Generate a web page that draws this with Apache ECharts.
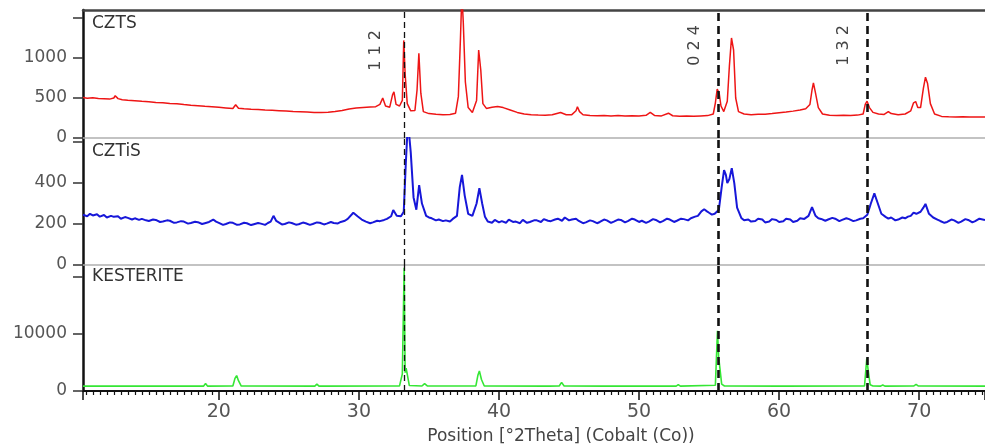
<!DOCTYPE html>
<html>
<head>
<meta charset="utf-8">
<script src="https://cdn.jsdelivr.net/npm/echarts@6/dist/echarts.min.js"></script>
<style>
  html, body { margin: 0; padding: 0; background: #fff; }
  #xrd { width: 985px; height: 446px; }
</style>
</head>
<body>
<div id="xrd"></div>
<script>
// [2theta, counts]
var cztsData = [
  [10.3,505],[10.6,498],[11.0,502],[11.4,494],[11.8,490],[12.2,486],[12.5,500],[12.6,528],[12.8,492],[13.1,478],
  [13.5,472],[14.0,466],[14.5,458],[15.0,452],[15.5,445],[16.0,440],[16.5,432],[17.0,428],[17.5,418],[18.0,410],
  [18.5,404],[19.0,396],[19.5,392],[20.0,384],[20.5,376],[21.0,368],[21.2,415],[21.4,372],[21.8,366],[22.3,360],
  [22.8,356],[23.3,350],[23.8,346],[24.3,342],[24.8,338],[25.3,332],[25.8,328],[26.3,324],[26.8,320],[27.3,318],
  [27.8,322],[28.3,330],[28.8,345],[29.3,362],[29.8,375],[30.3,382],[30.8,388],[31.2,392],[31.5,420],[31.7,500],
  [31.9,400],[32.2,385],[32.4,540],[32.5,578],[32.65,420],[32.9,400],[33.1,470],[33.2,1220],[33.3,800],[33.45,430],
  [33.7,340],[34.0,345],[34.15,600],[34.28,1060],[34.42,560],[34.6,330],[35.0,305],[35.5,296],[36.0,290],[36.5,295],
  [36.9,310],[37.1,520],[37.25,1250],[37.35,1800],[37.45,1450],[37.6,700],[37.8,380],[38.1,320],[38.4,470],[38.55,1100],
  [38.7,850],[38.85,430],[39.1,370],[39.5,385],[39.9,395],[40.3,380],[40.8,350],[41.3,320],[41.8,300],[42.3,292],
  [42.8,288],[43.3,285],[43.8,290],[44.4,318],[44.8,290],[45.2,292],[45.5,340],[45.6,390],[45.75,330],[46.0,290],
  [46.5,282],[47.0,278],[47.5,282],[48.0,276],[48.5,280],[49.0,274],[49.5,278],[50.0,275],[50.5,284],[50.8,320],
  [51.1,282],[51.6,276],[52.1,310],[52.4,278],[52.9,272],[53.4,276],[53.9,272],[54.4,276],[54.9,280],[55.3,300],
  [55.45,440],[55.58,610],[55.72,560],[55.85,400],[56.05,330],[56.3,460],[56.45,900],[56.6,1250],[56.75,1100],[56.9,500],
  [57.1,330],[57.5,300],[58.0,292],[58.5,296],[59.0,298],[59.5,305],[60.0,315],[60.5,325],[61.0,336],[61.5,350],
  [61.9,365],[62.2,420],[62.35,600],[62.45,690],[62.6,560],[62.8,380],[63.1,300],[63.6,285],[64.1,280],[64.6,284],
  [65.1,280],[65.6,286],[66.0,300],[66.15,420],[66.28,460],[66.45,380],[66.7,320],[67.1,300],[67.5,295],[67.8,330],
  [68.0,305],[68.5,290],[69.0,300],[69.4,340],[69.6,440],[69.75,455],[69.9,380],[70.1,380],[70.3,620],[70.45,760],
  [70.6,680],[70.8,430],[71.1,300],[71.6,270],[72.1,266],[72.6,264],[73.1,266],[73.6,262],[74.1,264],[74.7,262]
];

var cztisData = [
  [10.3,245],[10.6,238],[10.8,250],[11.0,242],[11.3,248],[11.5,236],[11.8,244],[12.0,232],[12.3,240],[12.5,235],
  [12.8,238],[13.0,226],[13.3,234],[13.5,230],[13.8,222],[14.0,228],[14.3,220],[14.5,225],[14.8,218],[15.0,215],
  [15.3,222],[15.5,220],[15.8,210],[16.0,212],[16.3,218],[16.5,216],[16.8,206],[17.0,208],[17.3,214],[17.5,212],
  [17.8,202],[18.0,205],[18.3,211],[18.5,209],[18.8,200],[19.0,204],[19.3,210],[19.6,222],[19.8,212],[20.0,206],
  [20.3,196],[20.5,200],[20.8,208],[21.0,206],[21.3,196],[21.5,198],[21.8,206],[22.0,204],[22.3,195],[22.5,199],
  [22.8,205],[23.0,202],[23.3,196],[23.5,205],[23.7,212],[23.9,240],[24.1,215],[24.2,206],[24.5,198],[24.7,200],
  [25.0,208],[25.2,205],[25.5,197],[25.7,199],[26.0,207],[26.2,204],[26.5,196],[26.7,200],[27.0,208],[27.2,206],
  [27.5,198],[27.7,202],[28.0,210],[28.2,205],[28.5,203],[28.7,210],[29.0,216],[29.2,225],[29.6,255],[29.9,238],
  [30.2,222],[30.5,212],[30.8,204],[31.0,208],[31.3,216],[31.5,214],[31.8,220],[32.0,225],[32.3,238],[32.45,268],
  [32.7,240],[33.0,238],[33.2,260],[33.35,500],[33.5,700],[33.7,550],[33.9,330],[34.1,270],[34.3,390],[34.5,300],
  [34.8,240],[35.0,232],[35.2,228],[35.5,218],[35.7,222],[36.0,214],[36.2,218],[36.5,212],[36.7,225],[37.0,240],
  [37.2,380],[37.36,440],[37.55,340],[37.8,250],[38.1,240],[38.4,300],[38.6,375],[38.8,300],[39.0,235],[39.2,212],
  [39.5,206],[39.7,220],[40.0,208],[40.2,214],[40.5,206],[40.7,222],[41.0,210],[41.2,212],[41.5,204],[41.7,220],
  [42.0,206],[42.2,210],[42.5,218],[42.7,218],[43.0,210],[43.2,224],[43.5,216],[43.7,214],[44.0,222],[44.2,226],
  [44.5,216],[44.7,232],[45.0,218],[45.2,222],[45.5,226],[45.7,215],[46.0,204],[46.2,208],[46.5,218],[46.7,214],
  [47.0,204],[47.2,210],[47.5,222],[47.7,218],[48.0,206],[48.2,212],[48.5,222],[48.7,220],[49.0,208],[49.2,214],
  [49.5,226],[49.7,222],[50.0,210],[50.2,216],[50.5,206],[50.7,212],[51.0,224],[51.2,220],[51.5,208],[51.7,214],
  [52.0,226],[52.2,222],[52.5,210],[52.7,216],[53.0,226],[53.2,224],[53.5,218],[53.7,228],[54.0,236],[54.2,240],
  [54.45,262],[54.65,272],[54.85,262],[55.0,255],[55.2,246],[55.4,250],[55.7,270],[55.9,380],[56.07,463],[56.2,440],
  [56.3,400],[56.45,420],[56.62,473],[56.8,400],[57.0,280],[57.3,230],[57.5,218],[57.8,222],[58.0,212],[58.3,215],
  [58.5,226],[58.8,222],[59.0,208],[59.3,212],[59.5,224],[59.8,220],[60.0,210],[60.3,214],[60.5,226],[60.8,222],
  [61.0,210],[61.3,216],[61.5,228],[61.8,225],[62.1,240],[62.35,283],[62.6,240],[62.8,228],[63.0,225],[63.3,216],
  [63.5,222],[63.8,230],[64.0,226],[64.3,214],[64.5,220],[64.8,228],[65.0,224],[65.3,214],[65.5,218],[65.8,226],
  [66.0,228],[66.3,245],[66.55,300],[66.8,350],[67.0,310],[67.3,250],[67.6,235],[67.8,226],[68.0,232],[68.3,218],
  [68.5,222],[68.8,232],[69.0,228],[69.2,236],[69.4,240],[69.6,256],[69.8,250],[70.1,260],[70.3,280],[70.45,298],
  [70.7,250],[71.0,232],[71.3,222],[71.5,215],[71.8,206],[72.0,210],[72.3,222],[72.5,218],[72.8,206],[73.0,212],
  [73.3,224],[73.5,220],[73.8,208],[74.0,214],[74.3,226],[74.7,220]
];

var kesteriteData = [
  [10.3,850],[18.9,850],[19.05,1300],[19.2,850],[21.0,870],[21.15,2200],[21.27,2700],[21.4,1800],[21.6,870],
  [26.85,850],[27.0,1200],[27.15,850],[32.9,900],[33.1,3000],[33.23,21500],[33.3,3200],[33.37,4000],[33.6,950],
  [34.5,870],[34.69,1300],[34.9,870],[38.35,900],[38.5,2800],[38.6,3500],[38.75,2000],[38.95,870],
  [43.3,850],[43.44,1050],[43.6,850],[44.3,870],[44.47,1500],[44.65,870],[47.6,850],[47.73,1050],[47.9,850],
  [52.65,850],[52.8,1100],[52.95,850],[55.45,1000],[55.6,10500],[55.68,6000],[55.75,4500],[55.9,1200],[56.1,870],
  [60.0,850],[60.13,1000],[60.25,850],[66.1,900],[66.26,5700],[66.35,3800],[66.5,1100],[66.7,870],
  [67.25,850],[67.4,1050],[67.55,850],[69.6,860],[69.78,1150],[69.95,860],[74.7,850]
];

// reflection positions and indices
var refPositions = [33.23, 55.62, 66.28];
var refLabels = ['1 1 2', '0 2 4', '1 3 2'];
var refWidths = [1.3, 2.6, 2.6];
var refGaps = [20, 15, 15];

var panelNames = ['CZTS', 'CZTiS', 'KESTERITE'];
var panelMax = [1600, 620, 22000];
var panelInterval = [500, 200, 10000];
var panelHidden = [1500, 600, 20000];

var font = 'DejaVu Sans';
var xMin = 10.3, xMax = 74.7;

var myChart = echarts.init(document.getElementById('xrd'));

function refMarks(withLabel) {
    return {
        symbol: 'none',
        silent: true,
        animation: false,
        data: refPositions.map(function (x, i) {
            return {
                xAxis: x,
                lineStyle: {color: '#111', type: i === 0 ? [6, 4] : [8, 5], width: refWidths[i]},
                label: withLabel ? {
                    show: true,
                    formatter: refLabels[i],
                    position: 'insideEndTop',
                    distance: refGaps[i],
                    color: '#444',
                    fontFamily: font,
                    fontSize: 16
                } : {show: false}
            };
        })
    };
}

var grids = [
    {left: 83, right: 0, top: 10, height: 128},
    {left: 83, right: 0, top: 138, height: 127},
    {left: 83, right: 0, top: 265, height: 126}
];

var xAxes = [0, 1, 2].map(function (i) {
    var bottom = i === 2;
    return {
        type: 'value',
        gridIndex: i,
        min: xMin,
        max: xMax,
        position: 'bottom',
        axisLine: {onZero: false, lineStyle: {color: bottom ? '#111' : '#b0b0b0', width: bottom ? 2 : 1.5}},
        axisTick: {show: bottom, length: 9, lineStyle: {color: '#111', width: 1.5}},
        minorTick: {show: bottom, splitNumber: 20, length: 4, lineStyle: {color: '#111', width: 1.2}},
        axisLabel: {
            show: bottom, showMinLabel: false, showMaxLabel: false,
            margin: 12, color: '#555', fontFamily: font, fontSize: 19
        },
        splitLine: {show: false},
        name: bottom ? 'Position [°2Theta] (Cobalt (Co))' : '',
        nameLocation: 'middle',
        nameGap: 37,
        nameTextStyle: {color: '#444', fontFamily: font, fontSize: 17, padding: [0, 0, 0, 54]}
    };
});
// frame line across the top of the first panel
xAxes.push({
    type: 'value', gridIndex: 0, min: xMin, max: xMax, position: 'top',
    axisLine: {onZero: false, lineStyle: {color: '#444', width: 2.5}},
    axisTick: {show: false}, axisLabel: {show: false}, splitLine: {show: false}
});

var yAxes = [0, 1, 2].map(function (i) {
    return {
        type: 'value',
        gridIndex: i,
        min: 0,
        max: panelMax[i],
        interval: panelInterval[i],
        axisLine: {show: true, lineStyle: {color: '#111', width: 2.5}},
        axisTick: {show: true, length: 10, lineStyle: {color: '#333', width: 1.5}},
        axisLabel: {
            showMaxLabel: false,
            margin: 16, color: '#555', fontFamily: font, fontSize: 17,
            formatter: function (v) { return v === panelHidden[i] ? '' : v; }
        },
        splitLine: {show: false}
    };
});

var seriesData = [cztsData, cztisData, kesteriteData];
var seriesColors = ['#ee1515', '#1717d9', '#35e635'];
var seriesWidths = [1.5, 2, 1.6];

option = {
    animation: false,
    backgroundColor: '#fff',
    title: panelNames.map(function (name, i) {
        return {
            text: name,
            left: 87,
            top: [10, 138, 263][i],
            textStyle: {color: '#333', fontFamily: font, fontSize: 17, fontWeight: 'normal'}
        };
    }),
    grid: grids,
    xAxis: xAxes,
    yAxis: yAxes,
    series: seriesData.map(function (d, i) {
        return {
            name: panelNames[i],
            type: 'line',
            xAxisIndex: i,
            yAxisIndex: i,
            data: d,
            showSymbol: false,
            symbol: 'none',
            clip: true,
            lineStyle: {color: seriesColors[i], width: seriesWidths[i]},
            markLine: refMarks(i === 0)
        };
    })
};

myChart.setOption(option);
</script>
</body>
</html>
